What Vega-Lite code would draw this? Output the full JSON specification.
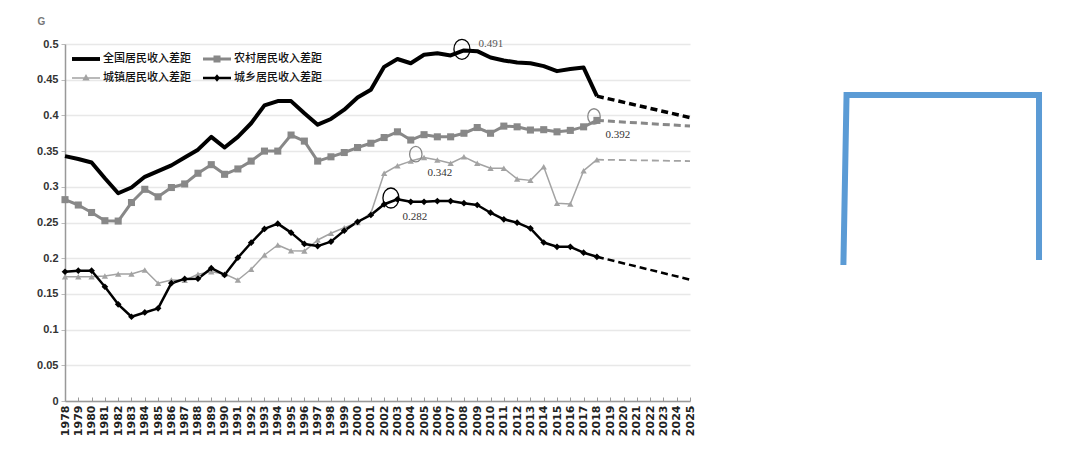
{
  "$schema": "https://vega.github.io/schema/vega-lite/v6.json",
  "background": "white",
  "padding": {"left": 36, "top": 16, "right": 0, "bottom": 0},
  "bounds": "flush",
  "spacing": 153,
  "config": {"view": {"stroke": null}},
  "datasets": {
    "gini": [
      {"series": "全国居民收入差距", "seg": "a", "year": 1978, "value": 0.343},
      {"series": "全国居民收入差距", "seg": "a", "year": 1979, "value": 0.339},
      {"series": "全国居民收入差距", "seg": "a", "year": 1980, "value": 0.334},
      {"series": "全国居民收入差距", "seg": "a", "year": 1981, "value": 0.312},
      {"series": "全国居民收入差距", "seg": "a", "year": 1982, "value": 0.291},
      {"series": "全国居民收入差距", "seg": "a", "year": 1983, "value": 0.299},
      {"series": "全国居民收入差距", "seg": "a", "year": 1984, "value": 0.314},
      {"series": "全国居民收入差距", "seg": "a", "year": 1985, "value": 0.322},
      {"series": "全国居民收入差距", "seg": "a", "year": 1986, "value": 0.33},
      {"series": "全国居民收入差距", "seg": "a", "year": 1987, "value": 0.341},
      {"series": "全国居民收入差距", "seg": "a", "year": 1988, "value": 0.352},
      {"series": "全国居民收入差距", "seg": "a", "year": 1989, "value": 0.37},
      {"series": "全国居民收入差距", "seg": "a", "year": 1990, "value": 0.355},
      {"series": "全国居民收入差距", "seg": "a", "year": 1991, "value": 0.37},
      {"series": "全国居民收入差距", "seg": "a", "year": 1992, "value": 0.389},
      {"series": "全国居民收入差距", "seg": "a", "year": 1993, "value": 0.414},
      {"series": "全国居民收入差距", "seg": "a", "year": 1994, "value": 0.42},
      {"series": "全国居民收入差距", "seg": "a", "year": 1995, "value": 0.42},
      {"series": "全国居民收入差距", "seg": "a", "year": 1996, "value": 0.403},
      {"series": "全国居民收入差距", "seg": "a", "year": 1997, "value": 0.387},
      {"series": "全国居民收入差距", "seg": "a", "year": 1998, "value": 0.395},
      {"series": "全国居民收入差距", "seg": "a", "year": 1999, "value": 0.408},
      {"series": "全国居民收入差距", "seg": "a", "year": 2000, "value": 0.425},
      {"series": "全国居民收入差距", "seg": "a", "year": 2001, "value": 0.436},
      {"series": "全国居民收入差距", "seg": "a", "year": 2002, "value": 0.468},
      {"series": "全国居民收入差距", "seg": "a", "year": 2003, "value": 0.479},
      {"series": "全国居民收入差距", "seg": "a", "year": 2004, "value": 0.473},
      {"series": "全国居民收入差距", "seg": "a", "year": 2005, "value": 0.485},
      {"series": "全国居民收入差距", "seg": "a", "year": 2006, "value": 0.487},
      {"series": "全国居民收入差距", "seg": "a", "year": 2007, "value": 0.484},
      {"series": "全国居民收入差距", "seg": "a", "year": 2008, "value": 0.491},
      {"series": "全国居民收入差距", "seg": "a", "year": 2009, "value": 0.49},
      {"series": "全国居民收入差距", "seg": "a", "year": 2010, "value": 0.481},
      {"series": "全国居民收入差距", "seg": "a", "year": 2011, "value": 0.477},
      {"series": "全国居民收入差距", "seg": "a", "year": 2012, "value": 0.474},
      {"series": "全国居民收入差距", "seg": "a", "year": 2013, "value": 0.473},
      {"series": "全国居民收入差距", "seg": "a", "year": 2014, "value": 0.469},
      {"series": "全国居民收入差距", "seg": "a", "year": 2015, "value": 0.462},
      {"series": "全国居民收入差距", "seg": "a", "year": 2016, "value": 0.465},
      {"series": "全国居民收入差距", "seg": "a", "year": 2017, "value": 0.467},
      {"series": "全国居民收入差距", "seg": "a", "year": 2018, "value": 0.427},
      {"series": "全国居民收入差距", "seg": "p", "year": 2018, "value": 0.427},
      {"series": "全国居民收入差距", "seg": "p", "year": 2025, "value": 0.397},

      {"series": "农村居民收入差距", "seg": "a", "year": 1978, "value": 0.282},
      {"series": "农村居民收入差距", "seg": "a", "year": 1979, "value": 0.2745},
      {"series": "农村居民收入差距", "seg": "a", "year": 1980, "value": 0.264},
      {"series": "农村居民收入差距", "seg": "a", "year": 1981, "value": 0.2525},
      {"series": "农村居民收入差距", "seg": "a", "year": 1982, "value": 0.252},
      {"series": "农村居民收入差距", "seg": "a", "year": 1983, "value": 0.278},
      {"series": "农村居民收入差距", "seg": "a", "year": 1984, "value": 0.2965},
      {"series": "农村居民收入差距", "seg": "a", "year": 1985, "value": 0.286},
      {"series": "农村居民收入差距", "seg": "a", "year": 1986, "value": 0.299},
      {"series": "农村居民收入差距", "seg": "a", "year": 1987, "value": 0.304},
      {"series": "农村居民收入差距", "seg": "a", "year": 1988, "value": 0.319},
      {"series": "农村居民收入差距", "seg": "a", "year": 1989, "value": 0.331},
      {"series": "农村居民收入差距", "seg": "a", "year": 1990, "value": 0.3175},
      {"series": "农村居民收入差距", "seg": "a", "year": 1991, "value": 0.325},
      {"series": "农村居民收入差距", "seg": "a", "year": 1992, "value": 0.336},
      {"series": "农村居民收入差距", "seg": "a", "year": 1993, "value": 0.35},
      {"series": "农村居民收入差距", "seg": "a", "year": 1994, "value": 0.35},
      {"series": "农村居民收入差距", "seg": "a", "year": 1995, "value": 0.3725},
      {"series": "农村居民收入差距", "seg": "a", "year": 1996, "value": 0.364},
      {"series": "农村居民收入差距", "seg": "a", "year": 1997, "value": 0.336},
      {"series": "农村居民收入差距", "seg": "a", "year": 1998, "value": 0.342},
      {"series": "农村居民收入差距", "seg": "a", "year": 1999, "value": 0.348},
      {"series": "农村居民收入差距", "seg": "a", "year": 2000, "value": 0.355},
      {"series": "农村居民收入差距", "seg": "a", "year": 2001, "value": 0.361},
      {"series": "农村居民收入差距", "seg": "a", "year": 2002, "value": 0.369},
      {"series": "农村居民收入差距", "seg": "a", "year": 2003, "value": 0.377},
      {"series": "农村居民收入差距", "seg": "a", "year": 2004, "value": 0.3655},
      {"series": "农村居民收入差距", "seg": "a", "year": 2005, "value": 0.373},
      {"series": "农村居民收入差距", "seg": "a", "year": 2006, "value": 0.37},
      {"series": "农村居民收入差距", "seg": "a", "year": 2007, "value": 0.37},
      {"series": "农村居民收入差距", "seg": "a", "year": 2008, "value": 0.375},
      {"series": "农村居民收入差距", "seg": "a", "year": 2009, "value": 0.383},
      {"series": "农村居民收入差距", "seg": "a", "year": 2010, "value": 0.375},
      {"series": "农村居民收入差距", "seg": "a", "year": 2011, "value": 0.385},
      {"series": "农村居民收入差距", "seg": "a", "year": 2012, "value": 0.384},
      {"series": "农村居民收入差距", "seg": "a", "year": 2013, "value": 0.3795},
      {"series": "农村居民收入差距", "seg": "a", "year": 2014, "value": 0.38},
      {"series": "农村居民收入差距", "seg": "a", "year": 2015, "value": 0.377},
      {"series": "农村居民收入差距", "seg": "a", "year": 2016, "value": 0.379},
      {"series": "农村居民收入差距", "seg": "a", "year": 2017, "value": 0.384},
      {"series": "农村居民收入差距", "seg": "a", "year": 2018, "value": 0.393},
      {"series": "农村居民收入差距", "seg": "p", "year": 2018, "value": 0.393},
      {"series": "农村居民收入差距", "seg": "p", "year": 2025, "value": 0.385},

      {"series": "城镇居民收入差距", "seg": "a", "year": 1978, "value": 0.174},
      {"series": "城镇居民收入差距", "seg": "a", "year": 1979, "value": 0.174},
      {"series": "城镇居民收入差距", "seg": "a", "year": 1980, "value": 0.174},
      {"series": "城镇居民收入差距", "seg": "a", "year": 1981, "value": 0.175},
      {"series": "城镇居民收入差距", "seg": "a", "year": 1982, "value": 0.178},
      {"series": "城镇居民收入差距", "seg": "a", "year": 1983, "value": 0.178},
      {"series": "城镇居民收入差距", "seg": "a", "year": 1984, "value": 0.1835},
      {"series": "城镇居民收入差距", "seg": "a", "year": 1985, "value": 0.165},
      {"series": "城镇居民收入差距", "seg": "a", "year": 1986, "value": 0.1695},
      {"series": "城镇居民收入差距", "seg": "a", "year": 1987, "value": 0.169},
      {"series": "城镇居民收入差距", "seg": "a", "year": 1988, "value": 0.1775},
      {"series": "城镇居民收入差距", "seg": "a", "year": 1989, "value": 0.181},
      {"series": "城镇居民收入差距", "seg": "a", "year": 1990, "value": 0.178},
      {"series": "城镇居民收入差距", "seg": "a", "year": 1991, "value": 0.1695},
      {"series": "城镇居民收入差距", "seg": "a", "year": 1992, "value": 0.1845},
      {"series": "城镇居民收入差距", "seg": "a", "year": 1993, "value": 0.2045},
      {"series": "城镇居民收入差距", "seg": "a", "year": 1994, "value": 0.2185},
      {"series": "城镇居民收入差距", "seg": "a", "year": 1995, "value": 0.2105},
      {"series": "城镇居民收入差距", "seg": "a", "year": 1996, "value": 0.21},
      {"series": "城镇居民收入差距", "seg": "a", "year": 1997, "value": 0.2255},
      {"series": "城镇居民收入差距", "seg": "a", "year": 1998, "value": 0.235},
      {"series": "城镇居民收入差距", "seg": "a", "year": 1999, "value": 0.2427},
      {"series": "城镇居民收入差距", "seg": "a", "year": 2000, "value": 0.25},
      {"series": "城镇居民收入差距", "seg": "a", "year": 2001, "value": 0.263},
      {"series": "城镇居民收入差距", "seg": "a", "year": 2002, "value": 0.319},
      {"series": "城镇居民收入差距", "seg": "a", "year": 2003, "value": 0.3296},
      {"series": "城镇居民收入差距", "seg": "a", "year": 2004, "value": 0.336},
      {"series": "城镇居民收入差距", "seg": "a", "year": 2005, "value": 0.341},
      {"series": "城镇居民收入差距", "seg": "a", "year": 2006, "value": 0.3375},
      {"series": "城镇居民收入差距", "seg": "a", "year": 2007, "value": 0.333},
      {"series": "城镇居民收入差距", "seg": "a", "year": 2008, "value": 0.342},
      {"series": "城镇居民收入差距", "seg": "a", "year": 2009, "value": 0.333},
      {"series": "城镇居民收入差距", "seg": "a", "year": 2010, "value": 0.326},
      {"series": "城镇居民收入差距", "seg": "a", "year": 2011, "value": 0.326},
      {"series": "城镇居民收入差距", "seg": "a", "year": 2012, "value": 0.311},
      {"series": "城镇居民收入差距", "seg": "a", "year": 2013, "value": 0.309},
      {"series": "城镇居民收入差距", "seg": "a", "year": 2014, "value": 0.328},
      {"series": "城镇居民收入差距", "seg": "a", "year": 2015, "value": 0.277},
      {"series": "城镇居民收入差距", "seg": "a", "year": 2016, "value": 0.276},
      {"series": "城镇居民收入差距", "seg": "a", "year": 2017, "value": 0.3226},
      {"series": "城镇居民收入差距", "seg": "a", "year": 2018, "value": 0.338},
      {"series": "城镇居民收入差距", "seg": "p", "year": 2018, "value": 0.338},
      {"series": "城镇居民收入差距", "seg": "p", "year": 2025, "value": 0.336},

      {"series": "城乡居民收入差距", "seg": "a", "year": 1978, "value": 0.181},
      {"series": "城乡居民收入差距", "seg": "a", "year": 1979, "value": 0.1825},
      {"series": "城乡居民收入差距", "seg": "a", "year": 1980, "value": 0.1825},
      {"series": "城乡居民收入差距", "seg": "a", "year": 1981, "value": 0.16},
      {"series": "城乡居民收入差距", "seg": "a", "year": 1982, "value": 0.1354},
      {"series": "城乡居民收入差距", "seg": "a", "year": 1983, "value": 0.118},
      {"series": "城乡居民收入差距", "seg": "a", "year": 1984, "value": 0.124},
      {"series": "城乡居民收入差距", "seg": "a", "year": 1985, "value": 0.1298},
      {"series": "城乡居民收入差距", "seg": "a", "year": 1986, "value": 0.165},
      {"series": "城乡居民收入差距", "seg": "a", "year": 1987, "value": 0.171},
      {"series": "城乡居民收入差距", "seg": "a", "year": 1988, "value": 0.1713},
      {"series": "城乡居民收入差距", "seg": "a", "year": 1989, "value": 0.186},
      {"series": "城乡居民收入差距", "seg": "a", "year": 1990, "value": 0.1765},
      {"series": "城乡居民收入差距", "seg": "a", "year": 1991, "value": 0.2007},
      {"series": "城乡居民收入差距", "seg": "a", "year": 1992, "value": 0.2217},
      {"series": "城乡居民收入差距", "seg": "a", "year": 1993, "value": 0.241},
      {"series": "城乡居民收入差距", "seg": "a", "year": 1994, "value": 0.2484},
      {"series": "城乡居民收入差距", "seg": "a", "year": 1995, "value": 0.2358},
      {"series": "城乡居民收入差距", "seg": "a", "year": 1996, "value": 0.22},
      {"series": "城乡居民收入差距", "seg": "a", "year": 1997, "value": 0.217},
      {"series": "城乡居民收入差距", "seg": "a", "year": 1998, "value": 0.2232},
      {"series": "城乡居民收入差距", "seg": "a", "year": 1999, "value": 0.2386},
      {"series": "城乡居民收入差距", "seg": "a", "year": 2000, "value": 0.251},
      {"series": "城乡居民收入差距", "seg": "a", "year": 2001, "value": 0.2605},
      {"series": "城乡居民收入差距", "seg": "a", "year": 2002, "value": 0.2755},
      {"series": "城乡居民收入差距", "seg": "a", "year": 2003, "value": 0.2825},
      {"series": "城乡居民收入差距", "seg": "a", "year": 2004, "value": 0.279},
      {"series": "城乡居民收入差距", "seg": "a", "year": 2005, "value": 0.279},
      {"series": "城乡居民收入差距", "seg": "a", "year": 2006, "value": 0.28},
      {"series": "城乡居民收入差距", "seg": "a", "year": 2007, "value": 0.28},
      {"series": "城乡居民收入差距", "seg": "a", "year": 2008, "value": 0.277},
      {"series": "城乡居民收入差距", "seg": "a", "year": 2009, "value": 0.2745},
      {"series": "城乡居民收入差距", "seg": "a", "year": 2010, "value": 0.2637},
      {"series": "城乡居民收入差距", "seg": "a", "year": 2011, "value": 0.2545},
      {"series": "城乡居民收入差距", "seg": "a", "year": 2012, "value": 0.2498},
      {"series": "城乡居民收入差距", "seg": "a", "year": 2013, "value": 0.2418},
      {"series": "城乡居民收入差距", "seg": "a", "year": 2014, "value": 0.222},
      {"series": "城乡居民收入差距", "seg": "a", "year": 2015, "value": 0.216},
      {"series": "城乡居民收入差距", "seg": "a", "year": 2016, "value": 0.216},
      {"series": "城乡居民收入差距", "seg": "a", "year": 2017, "value": 0.2077},
      {"series": "城乡居民收入差距", "seg": "a", "year": 2018, "value": 0.202},
      {"series": "城乡居民收入差距", "seg": "p", "year": 2018, "value": 0.202},
      {"series": "城乡居民收入差距", "seg": "p", "year": 2025, "value": 0.17}
    ],
    "ann": [
      {"year": 2007.85, "value": 0.4926, "label": "0.491"},
      {"year": 2017.78, "value": 0.3985, "label": "0.392"},
      {"year": 2004.38, "value": 0.3457, "label": "0.342"},
      {"year": 2002.51, "value": 0.2843, "label": "0.282"}
    ],
    "bracket": [
      {"o": 1, "bx": 0.002, "by": 0.1905},
      {"o": 2, "bx": 0.018, "by": 0.4286},
      {"o": 3, "bx": 0.995, "by": 0.4286},
      {"o": 4, "bx": 0.995, "by": 0.1975}
    ]
  },
  "hconcat": [
    {
      "width": 625,
      "height": 357,
      "encoding": {
        "x": {
          "field": "year", "type": "quantitative",
          "scale": {"domain": [1978, 2025], "nice": false, "zero": false},
          "axis": {
            "title": null,
            "values": [1978,1979,1980,1981,1982,1983,1984,1985,1986,1987,1988,1989,1990,1991,1992,1993,1994,1995,1996,1997,1998,1999,2000,2001,2002,2003,2004,2005,2006,2007,2008,2009,2010,2011,2012,2013,2014,2015,2016,2017,2018,2019,2020,2021,2022,2023,2024,2025],
            "format": "d",
            "labelAngle": -90,
            "labelFont": "DejaVu Sans",
            "labelFontWeight": "bold",
            "labelFontSize": 11,
            "labelColor": "#222",
            "labelPadding": 8,
            "labelOverlap": false,
            "labelFlush": false,
            "labelBound": false,
            "grid": false,
            "tickSize": -4,
            "tickColor": "#999",
            "domainColor": "#999",
            "domainWidth": 1.5
          }
        },
        "y": {
          "field": "value", "type": "quantitative",
          "scale": {"domain": [0, 0.5], "nice": false},
          "axis": {
            "title": "G",
            "titleAngle": 0,
            "titleX": -24,
            "titleY": -23,
            "titleAlign": "center",
            "titleBaseline": "middle",
            "titleFont": "Liberation Sans",
            "titleFontSize": 10,
            "titleFontWeight": "bold",
            "titleColor": "#777",
            "values": [0, 0.05, 0.1, 0.15, 0.2, 0.25, 0.3, 0.35, 0.4, 0.45, 0.5],
            "labelExpr": "datum.value == 0 ? '0' : format(datum.value, '.2~f')",
            "labelFont": "Liberation Sans",
            "labelFontWeight": "bold",
            "labelFontSize": 11,
            "labelColor": "#333",
            "labelPadding": 3,
            "tickSize": 4,
            "tickColor": "#bbb",
            "domainColor": "#999",
            "domainWidth": 1.5,
            "gridColor": "#e8e8e8",
            "gridWidth": 1.5
          }
        }
      },
      "layer": [
        {
          "data": {"name": "gini"},
          "transform": [{"filter": "datum.seg == 'a'"}],
          "mark": {"type": "line", "strokeJoin": "round"},
          "encoding": {
            "color": {
              "field": "series", "type": "nominal",
              "scale": {
                "domain": ["全国居民收入差距", "农村居民收入差距", "城镇居民收入差距", "城乡居民收入差距"],
                "range": ["#000000", "#888888", "#a3a3a3", "#000000"]
              },
              "legend": {
                "title": null,
                "orient": "none",
                "direction": "horizontal",
                "legendX": 7,
                "legendY": 1,
                "columns": 2,
                "padding": 0,
                "symbolSize": 784,
                "labelFont": "Noto Sans CJK SC",
                "labelFontSize": 11,
                "labelFontWeight": 500,
                "labelColor": "#111",
                "labelOffset": 3,
                "columnPadding": 12,
                "rowPadding": -3,
                "encode": {
                  "symbols": {
                    "update": {
                      "shape": {"signal": "datum.value === '全国居民收入差距' ? 'M-1,-0.14H1V0.14H-1Z' : datum.value === '农村居民收入差距' ? 'M-1,-0.11H1V0.11H-1Z M-0.25,-0.25H0.25V0.25H-0.25Z' : datum.value === '城镇居民收入差距' ? 'M-1,-0.05H1V0.05H-1Z M0,-0.28L0.26,0.18H-0.26Z' : 'M-1,-0.09H1V0.09H-1Z M0,-0.26L0.22,0L0,0.26L-0.22,0Z'"},
                      "fill": {"scale": "color", "field": "value"},
                      "stroke": {"value": "transparent"},
                      "strokeWidth": {"value": 0},
                      "size": {"value": 784},
                      "opacity": {"value": 1}
                    }
                  }
                }
              }
            },
            "strokeWidth": {
              "condition": [
                {"test": "datum.series == '全国居民收入差距'", "value": 4},
                {"test": "datum.series == '农村居民收入差距'", "value": 3},
                {"test": "datum.series == '城镇居民收入差距'", "value": 1.5}
              ],
              "value": 2.5
            }
          }
        },
        {
          "data": {"name": "gini"},
          "transform": [{"filter": "datum.seg == 'p'"}],
          "mark": {"type": "line", "strokeDash": [7, 4]},
          "encoding": {
            "color": {"field": "series", "type": "nominal", "legend": null},
            "strokeWidth": {
              "condition": [
                {"test": "datum.series == '全国居民收入差距'", "value": 3.5},
                {"test": "datum.series == '农村居民收入差距'", "value": 3},
                {"test": "datum.series == '城镇居民收入差距'", "value": 1.8}
              ],
              "value": 2.5
            }
          }
        },
        {
          "data": {"name": "gini"},
          "transform": [{"filter": "datum.seg == 'a' && datum.series != '全国居民收入差距'"}],
          "mark": {"type": "point", "filled": true, "opacity": 1},
          "encoding": {
            "color": {"field": "series", "type": "nominal", "legend": null},
            "shape": {
              "field": "series", "type": "nominal", "legend": null,
              "scale": {
                "domain": ["农村居民收入差距", "城镇居民收入差距", "城乡居民收入差距"],
                "range": ["square", "triangle-up", "diamond"]
              }
            },
            "size": {
              "condition": [
                {"test": "datum.series == '农村居民收入差距'", "value": 50},
                {"test": "datum.series == '城镇居民收入差距'", "value": 40}
              ],
              "value": 45
            }
          }
        },
        {
          "data": {"name": "ann"},
          "mark": {"type": "point", "filled": false, "strokeWidth": 1.3, "opacity": 1, "shape": "M-0.8,0A0.8,1,0,1,1,0.8,0A0.8,1,0,1,1,-0.8,0Z"},
          "encoding": {
            "stroke": {
              "condition": {"test": "datum.label == '0.491' || datum.label == '0.282'", "value": "#000000"},
              "value": "#888888"
            },
            "size": {
              "condition": {"test": "datum.label == '0.491' || datum.label == '0.282'", "value": 400},
              "value": 240
            }
          }
        },
        {
          "data": {"name": "ann"},
          "transform": [{"filter": "datum.label == '0.491'"}],
          "mark": {"type": "text", "dx": 29, "dy": -5, "font": "Liberation Serif", "fontSize": 11, "color": "#555"},
          "encoding": {"text": {"field": "label"}}
        },
        {
          "data": {"name": "ann"},
          "transform": [{"filter": "datum.label != '0.491'"}],
          "mark": {"type": "text", "dx": 24, "dy": 18.5, "font": "Liberation Serif", "fontSize": 11, "color": "#333"},
          "encoding": {"text": {"field": "label"}}
        }
      ]
    },
    {
      "width": 197,
      "height": 357,
      "data": {"name": "bracket"},
      "mark": {"type": "line", "color": "#5B9BD5", "strokeWidth": 6, "strokeJoin": "miter", "strokeCap": "butt"},
      "encoding": {
        "x": {"field": "bx", "type": "quantitative", "scale": {"domain": [0, 1], "nice": false, "zero": false}, "axis": null},
        "y": {"field": "by", "type": "quantitative", "scale": {"domain": [0, 0.5], "nice": false}, "axis": null},
        "order": {"field": "o", "type": "quantitative"}
      }
    }
  ]
}
